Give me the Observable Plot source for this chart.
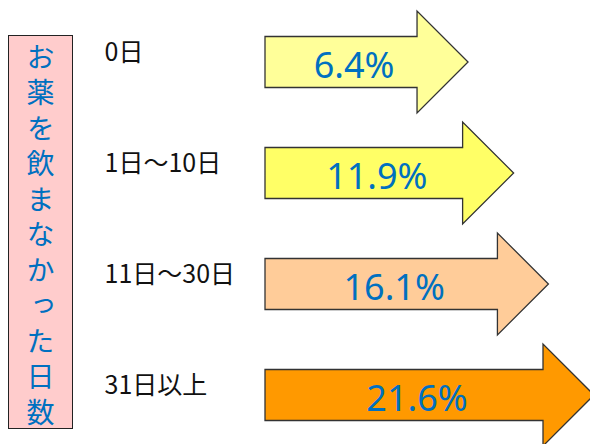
<!DOCTYPE html>
<html><head><meta charset="utf-8">
<script src="https://cdn.jsdelivr.net/npm/d3@7"></script>
<script src="https://cdn.jsdelivr.net/npm/@observablehq/plot@0.6"></script>
<style>
body{margin:0;background:#fff;}
#wrap{position:relative;width:590px;height:444px;overflow:hidden;}
#side{position:absolute;left:8px;top:35px;width:65px;height:394px;background:#FFCCCC;border:1.5px solid #222;box-sizing:border-box;z-index:2;}
#sideText{position:absolute;top:7px;left:50%;transform:translateX(-50%);writing-mode:vertical-rl;font-family:'Noto Sans CJK JP',sans-serif;font-size:28px;line-height:28px;letter-spacing:7.5px;color:#0070C0;white-space:nowrap;}
</style></head>
<body><div id="wrap"><div id="side"><div id="sideText"></div></div></div>
<script>
const categories = ["0日", "1日〜10日", "11日〜30日", "31日以上"];
const values = [6.4, 11.9, 16.1, 21.6];
const palette = ["#FFFF99", "#FFFF66", "#FFCC99", "#FF9900"];
const sideTitle = "お薬を飲まなかった日数";

const data = categories.map((c, i) => ({cat: c, value: values[i], color: palette[i]}));
document.getElementById("sideText").textContent = sideTitle;

function arrows(index, scales) {
  const x = scales.x, y = scales.y;
  const g = d3.create("svg:g");
  const tail = 265, body = 25.5, head = 51, headLen = 51;
  data.forEach(d => {
    const tip = x(d.value), cy = y(d.cat), hx = tip - headLen;
    const pts = [[tail, cy - body], [hx, cy - body], [hx, cy - head], [tip, cy], [hx, cy + head], [hx, cy + body], [tail, cy + body]];
    g.append("path")
      .attr("d", "M" + pts.map(p => p.join(",")).join("L") + "Z")
      .attr("fill", d.color)
      .attr("stroke", "#333")
      .attr("stroke-width", 1.3);
    g.append("text")
      .attr("x", (tail + hx) / 2 + 13)
      .attr("y", cy + 2)
      .attr("text-anchor", "middle")
      .attr("dominant-baseline", "central")
      .attr("fill", "#0070C0")
      .attr("font-size", 36)
      .attr("font-family", "'Noto Sans', sans-serif")
      .text(d.value.toFixed(1) + "%");
  });
  return g.node();
}

const chart = Plot.plot({
  width: 590,
  height: 444,
  margin: 0,
  style: {fontFamily: "'Noto Sans CJK JP', sans-serif", background: "transparent"},
  x: {domain: [0, 21.6], range: [415, 594], axis: null},
  y: {type: "point", domain: categories, range: [61, 395], padding: 0, axis: null},
  marks: [
    Plot.dot(data, {x: "value", y: "cat", r: 0}),
    arrows,
    Plot.text(data, {y: "cat", text: "cat", frameAnchor: "left", dx: 104, dy: -10, textAnchor: "start", fontSize: 25, fill: "#111"})
  ]
});
chart.style.position = "absolute";
chart.style.left = "0";
chart.style.top = "0";
document.getElementById("wrap").appendChild(chart);
</script>
</body></html>
